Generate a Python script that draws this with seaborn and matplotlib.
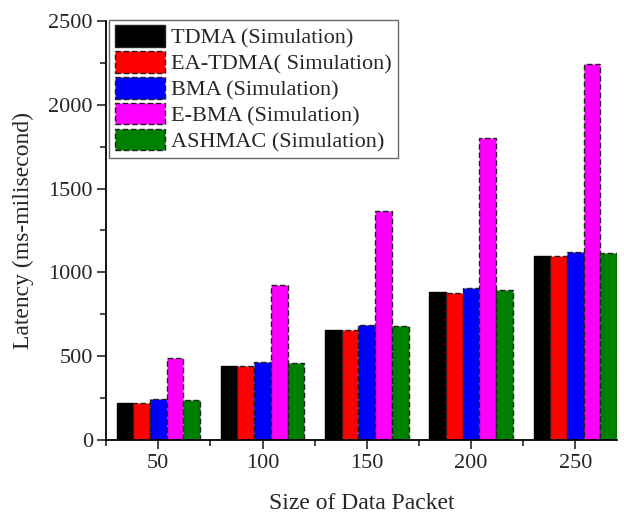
import matplotlib as mpl
mpl.use('Agg')
import matplotlib.pyplot as plt
from matplotlib.ticker import MultipleLocator
import numpy as np
import pandas as pd
import seaborn as sns

# data
packet_sizes = [50, 100, 150, 200, 250]
tdma = [222, 441, 658, 880, 1097]
ea_tdma = [220, 440, 657, 878, 1095]
bma = [246, 463, 684, 905, 1120]
e_bma = [489, 926, 1365, 1804, 2241]
ashmac = [239, 457, 678, 895, 1113]

series_names = ['TDMA (Simulation)', 'EA-TDMA( Simulation)', 'BMA (Simulation)',
                'E-BMA (Simulation)', 'ASHMAC (Simulation)']
series_values = [tdma, ea_tdma, bma, e_bma, ashmac]
colors = ['#000000', '#ff0000', '#0000ff', '#ff00ff', '#008000']


def make_frame():
    rows = []
    for name, vals in zip(series_names, series_values):
        for size, v in zip(packet_sizes, vals):
            rows.append({'size': size, 'latency': v, 'series': name})
    return pd.DataFrame(rows)


def setup_figure():
    sns.set_style('ticks')
    plt.rcParams['font.family'] = ['Liberation Serif', 'DejaVu Serif']
    plt.rcParams.update({'font.size': 15})

    df = make_frame()
    fig = plt.figure(figsize=(6.24, 5.15), dpi=100)
    ax = fig.add_axes([0.170, 0.146, 0.819, 0.813])

    sns.barplot(data=df, x='size', y='latency', hue='series', hue_order=series_names,
                palette=colors, native_scale=True, width=0.8, gap=0, saturation=1,
                edgecolor='#222222', linewidth=1.0, ax=ax, err_kws={'linewidth': 0})

    # dashed outlines on all but the TDMA bars
    for idx, cont in enumerate(ax.containers):
        for p in cont.patches:
            if idx == 0:
                p.set_edgecolor('black')
            else:
                p.set_linestyle((0, (4, 2)))

    ax.set_xlim(25, 270)
    ax.set_ylim(0, 2500)
    ax.set_xticks(packet_sizes)
    ax.xaxis.set_minor_locator(MultipleLocator(25))
    ax.yaxis.set_major_locator(MultipleLocator(500))
    ax.yaxis.set_minor_locator(MultipleLocator(250))
    ax.tick_params(which='major', direction='out', length=6.5, width=1.2, labelsize=16)
    ax.tick_params(which='minor', direction='out', length=4, width=1.2)
    ax.tick_params(axis='x', which='major', pad=4)
    ax.tick_params(axis='y', which='major', pad=3)
    for s in ['top', 'right']:
        ax.spines[s].set_visible(False)
    for s in ['left', 'bottom']:
        ax.spines[s].set_linewidth(1.3)
        ax.spines[s].set_color('black')

    ax.set_xlabel('Size of Data Packet', fontsize=17, labelpad=14)
    ax.set_ylabel('Latency (ms-milisecond)', fontsize=17, labelpad=10)

    leg = ax.legend(loc='upper left', bbox_to_anchor=(0.006, 1.003), fontsize=16,
                    frameon=True, fancybox=False, edgecolor='#444444',
                    handlelength=2.25, handleheight=1.1, labelspacing=0.12,
                    handletextpad=0.3, borderpad=0.25, borderaxespad=0)
    leg.get_frame().set_linewidth(1.0)
    for idx, h in enumerate(leg.legend_handles):
        h.set_edgecolor('#222222')
        if idx > 0:
            h.set_linestyle((0, (4, 2)))

    fig.savefig('out.png', dpi=100)


if __name__ == '__main__':
    setup_figure()
